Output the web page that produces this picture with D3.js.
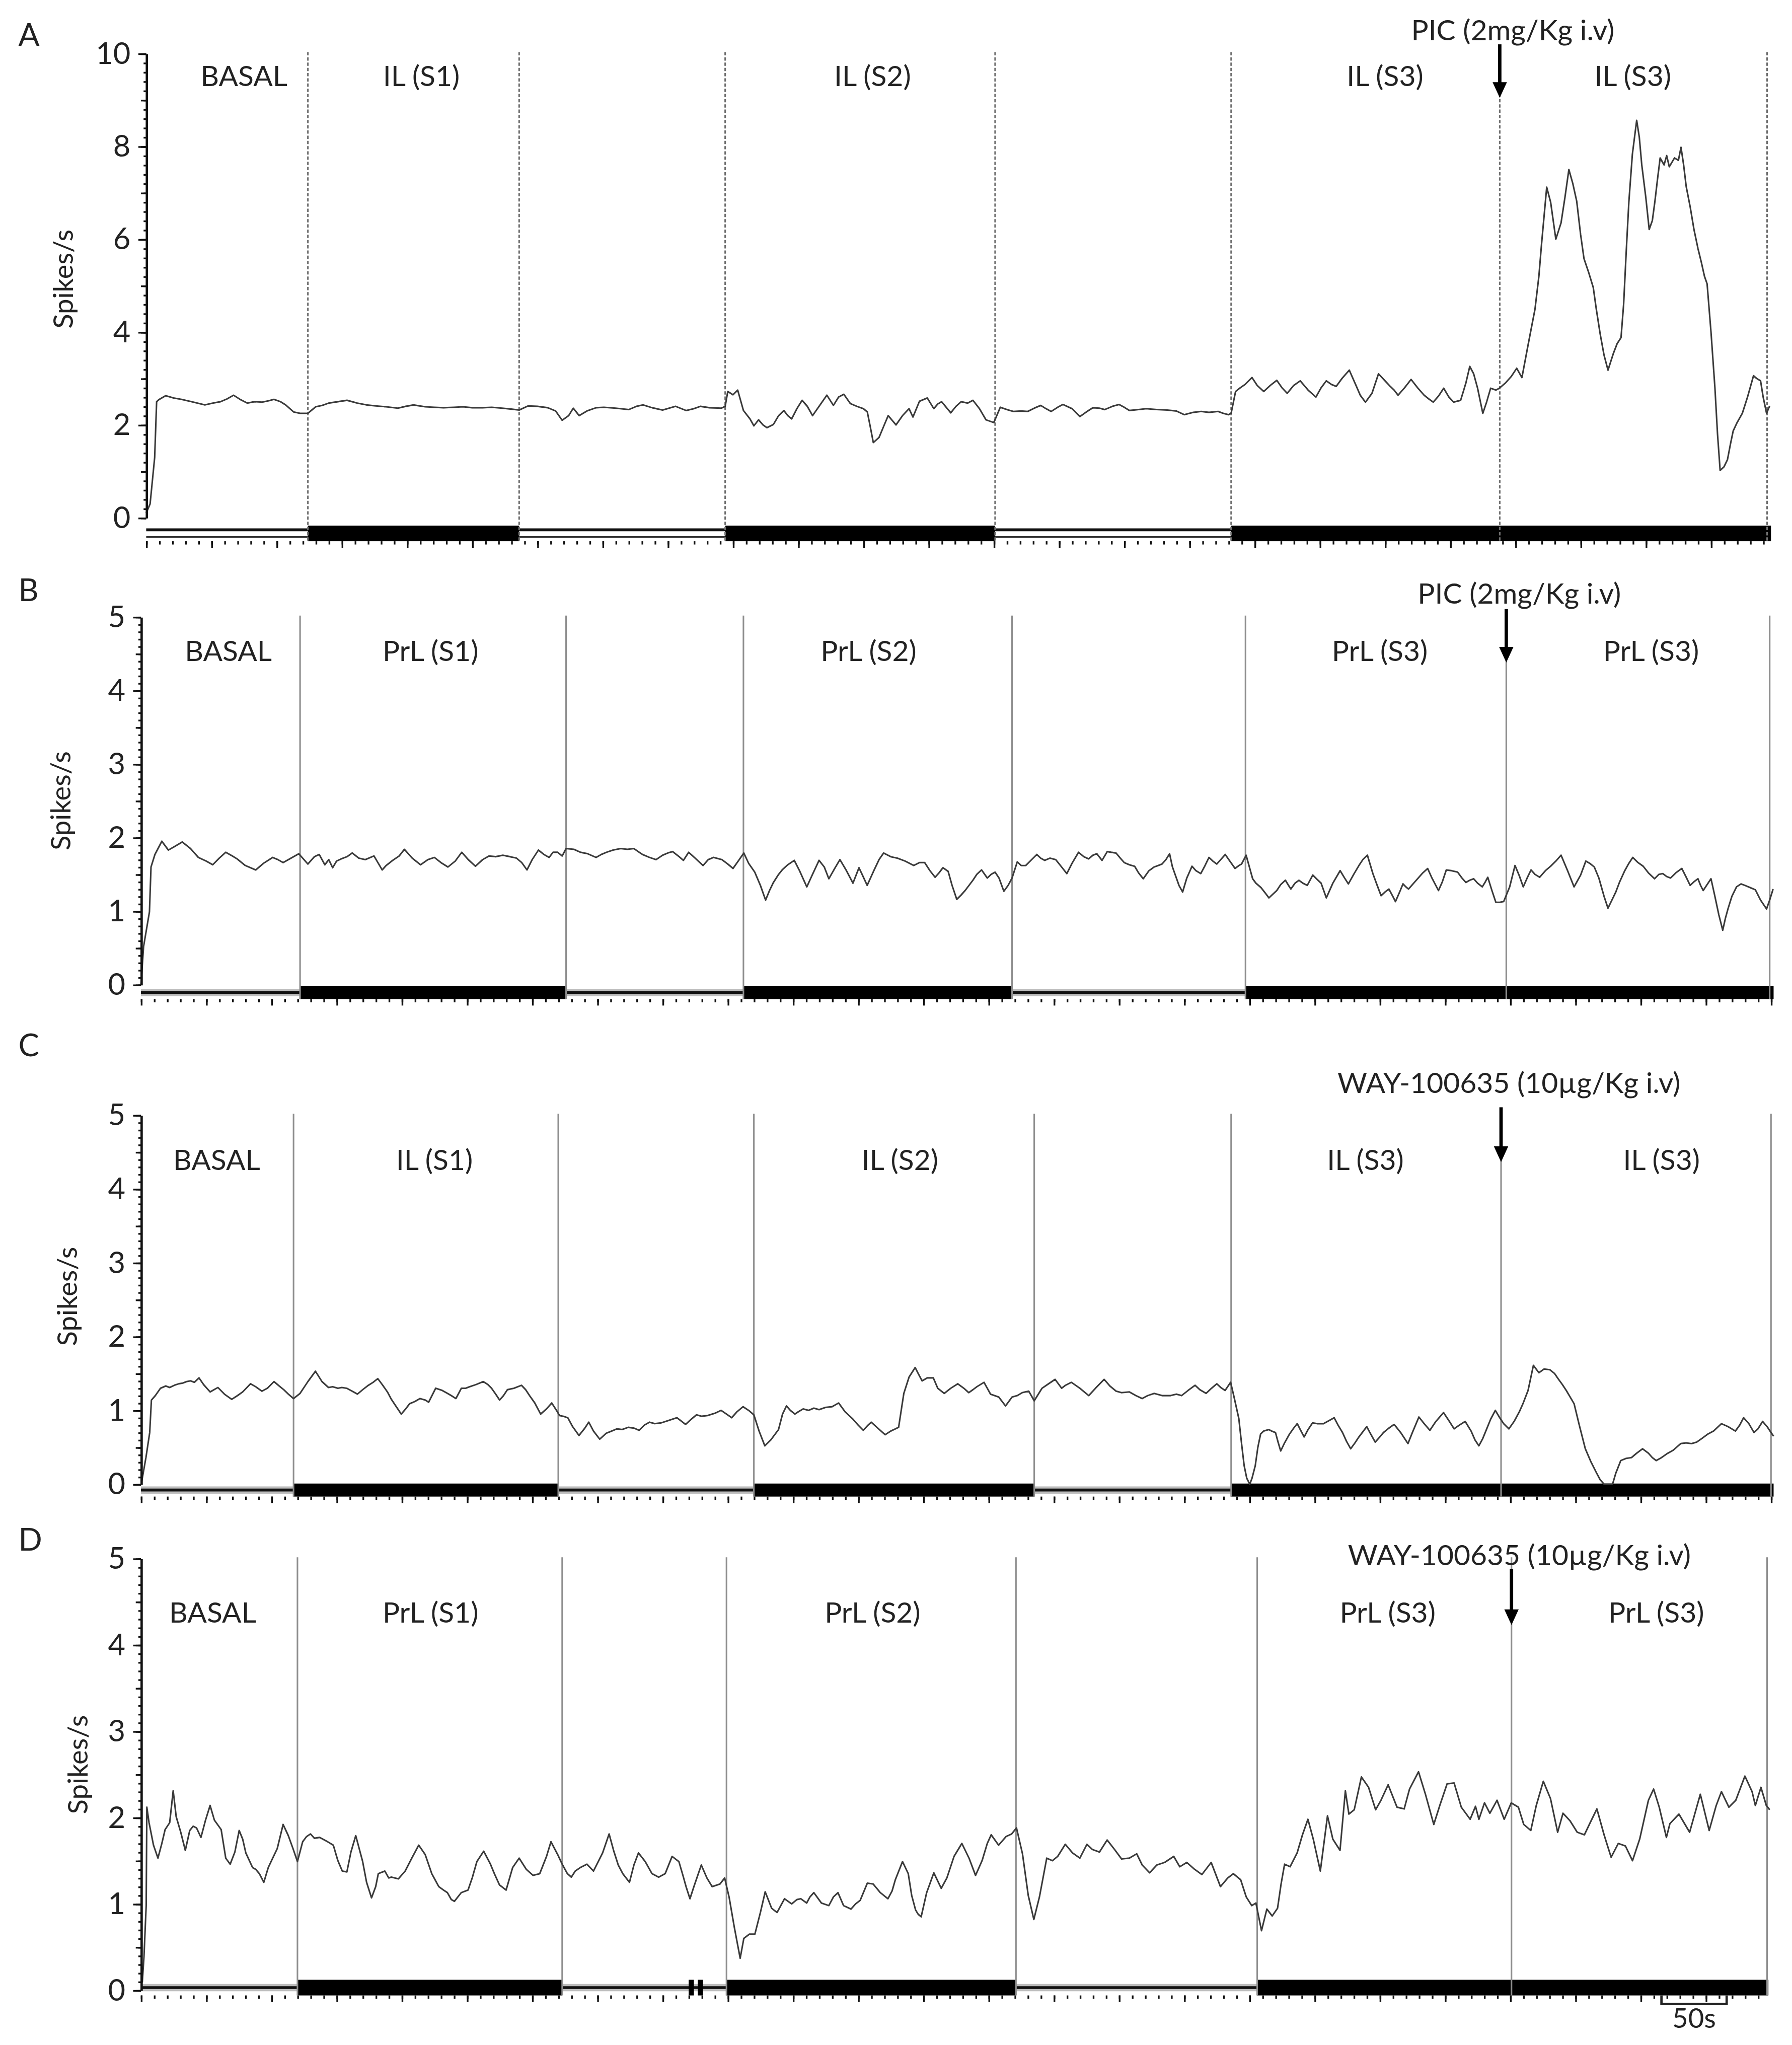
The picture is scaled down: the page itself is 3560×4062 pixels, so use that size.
<!DOCTYPE html>
<html>
<head>
<meta charset="utf-8">
<title>Spikes/s during IL / PrL stimulation</title>
<script src="https://cdn.jsdelivr.net/npm/d3@7"></script>
<style>
  body { margin: 0; background: #fff; }
  svg { display: block; }
  text { font-family: Lato, "Open Sans", sans-serif; fill: #222; }
</style>
</head>
<body>
<div id="figure"></div>
<script>
/**
 * Data: firing rate traces, [time (s), spikes/s]
 */
var traceA = [[0,0.1],[3,0.3],[6.5,1.3],[8,2.5],[10,2.55],[15,2.63],[21,2.58],[27,2.55],[35,2.5],[45,2.43],[51,2.47],[57,2.5],[62,2.56],[67,2.64],[72,2.55],[77.5,2.47],[83,2.5],[89,2.49],[94,2.52],[98,2.55],[103,2.5],[107,2.43],[113,2.28],[118,2.25],[124,2.25],
  [130,2.39],[135,2.42],[140,2.47],[147,2.5],[154,2.53],[162,2.47],[169,2.43],[176,2.41],[184,2.39],[193,2.36],[199,2.4],[205,2.43],[214,2.39],[221,2.38],[228,2.37],[236,2.38],[243,2.39],[250,2.37],[258,2.37],[265,2.38],[273,2.36],[280,2.34],[286,2.32],
  [293,2.41],[300,2.4],[308,2.37],[314,2.3],[319,2.1],[324,2.2],[327.5,2.36],[332,2.2],[338,2.3],[345,2.37],[351,2.38],[360,2.36],[370,2.33],[376,2.4],[381,2.43],[388,2.37],[396,2.32],[401,2.36],[406,2.4],[414,2.31],[420,2.35],[425,2.4],[432,2.37],[441,2.36],[444,2.4],
  [446,2.72],[450,2.65],[453.6,2.75],[458,2.31],[463,2.13],[466,1.98],[469.6,2.11],[473,2.0],[476,1.94],[481,2.01],[485,2.2],[489,2.31],[492,2.2],[495,2.13],[499,2.35],[503,2.53],[507,2.4],[511,2.2],[516,2.4],[522,2.64],[527,2.42],[531,2.6],[535,2.66],[540,2.46],[545,2.4],[550,2.35],[553,2.28],[555,2.0],[557.6,1.62],[562,1.73],[566,2.0],[569,2.2],[572,2.1],[575,2.0],[580,2.2],[585,2.35],[588,2.17],[593,2.51],[599,2.58],[604,2.35],[607,2.45],[610,2.5],[617,2.26],[621,2.4],[625,2.5],[630,2.47],[634,2.53],[639,2.35],[644,2.11],[650,2.05],
  [655,2.38],[660,2.33],[665,2.29],[671,2.3],[676,2.29],[681,2.36],[686,2.42],[690,2.35],[694,2.29],[699,2.38],[703,2.44],[710,2.35],[716,2.18],[721,2.28],[726,2.37],[731,2.36],[735,2.33],[741,2.4],[746,2.44],[750,2.38],[754,2.31],[761,2.33],[767,2.35],[775,2.33],[783,2.32],[790,2.3],[796,2.22],[803,2.27],[809,2.29],[815,2.27],[822,2.29],[826,2.25],[830,2.22],
  [832,2.25],[835.4,2.72],[839,2.8],[842.6,2.87],[848,3.02],[852,2.85],[857,2.72],[862,2.85],[867,2.96],[871,2.8],[875,2.68],[880,2.85],[885,2.95],[891,2.75],[897,2.6],[901,2.8],[905,2.95],[909,2.87],[912.6,2.83],[917,3.0],[922.6,3.18],[927,2.9],[931,2.64],[935,2.49],[940,2.68],[945,3.1],[950,2.95],[954,2.83],[957,2.75],[960,2.64],[965,2.8],[970,2.98],[975,2.8],[980,2.64],[984,2.55],[987,2.49],[991,2.62],[995,2.79],[999,2.6],[1002.6,2.49],[1008,2.53],[1012,2.9],[1015,3.26],[1018,3.1],[1021,2.79],[1025,2.25],[1028,2.5],[1031,2.79],[1035,2.75],[1037.7,2.79],
  [1042.6,2.91],[1047,3.05],[1051,3.22],[1055,3.02],[1059.7,3.72],[1065,4.49],[1068,5.2],[1070,5.88],[1074,7.12],[1077,6.8],[1081,6.0],[1085,6.35],[1088,6.9],[1091,7.5],[1094,7.2],[1097,6.82],[1100,6.1],[1102.6,5.58],[1106,5.3],[1109.7,4.96],[1112,4.5],[1115,3.96],[1118,3.5],[1121,3.18],[1125,3.53],[1128,3.75],[1131,3.88],[1133,4.6],[1135,5.74],[1137,6.8],[1139.7,7.83],[1143,8.56],[1145,8.2],[1146.9,7.6],[1150,6.9],[1152.6,6.21],[1155,6.4],[1157,6.82],[1159,7.3],[1161,7.75],[1164,7.6],[1166,7.8],[1168,7.56],[1172,7.75],[1175,7.7],[1177,7.98],[1179,7.6],[1181,7.13],[1184,6.7],[1187,6.2],[1190,5.8],[1192.6,5.5],[1195,5.2],[1197,5.04],[1200,4.0],[1203,2.8],[1205,1.8],[1207,1.02],[1210,1.1],[1212.6,1.25],[1215,1.6],[1217,1.87],[1220,2.05],[1224,2.25],[1228,2.6],[1232.6,3.06],[1235,3.0],[1238,2.95],[1240,2.6],[1242.6,2.25],[1245,2.41]];

var traceB = [[0,0.0],[2,0.52],[6.5,0.99],[7.7,1.6],[10.7,1.77],[16,1.95],[21,1.83],[25,1.87],[31.7,1.94],[38,1.85],[44,1.73],[50,1.68],[55,1.63],[60,1.72],[65,1.8],[70,1.75],[73.7,1.71],[80,1.62],[88,1.56],[94,1.65],[101,1.73],[105,1.7],[109,1.66],[115,1.72],[121,1.78],
  [128,1.64],[133,1.74],[136.7,1.77],[141,1.63],[144,1.7],[147,1.59],[150,1.68],[153.5,1.71],[158,1.74],[162,1.79],[167,1.72],[172,1.7],[178.7,1.75],[185,1.56],[188,1.62],[193,1.69],[198,1.75],[202,1.84],[208,1.72],[214.4,1.63],[220,1.7],[225,1.73],[230,1.66],[235.4,1.6],[241,1.68],[246,1.8],[251,1.7],[256.5,1.61],[262,1.7],[267,1.75],[272,1.74],[277.5,1.76],[283,1.74],[288,1.72],[292,1.66],[296,1.56],[300,1.7],[304.8,1.83],[309,1.77],[313,1.73],[316,1.8],[319.5,1.8],[323,1.75],[326,1.85],
  [332,1.84],[337,1.8],[342.6,1.78],[349,1.73],[353,1.77],[357,1.8],[362,1.83],[367.8,1.85],[373,1.84],[378,1.85],[384.6,1.77],[390,1.73],[395,1.7],[400,1.76],[404,1.79],[407.7,1.81],[412,1.75],[416,1.69],[420,1.8],[425,1.72],[431,1.62],[435,1.7],[439,1.73],[445.5,1.7],[450,1.64],[454,1.58],[458,1.68],[462.3,1.79],
  [466,1.65],[470.7,1.53],[475,1.35],[479,1.15],[482,1.28],[485,1.39],[489,1.5],[491.7,1.56],[496,1.63],[501,1.69],[505,1.55],[510.6,1.33],[515,1.5],[520,1.69],[524,1.6],[527.5,1.44],[532,1.58],[536,1.7],[541,1.55],[546,1.38],[550.6,1.59],[553,1.5],[556.9,1.35],[562,1.55],[566,1.7],[569.5,1.79],[575,1.74],[580,1.72],[586,1.68],[592.6,1.62],[597,1.66],[601,1.66],[605,1.55],[609,1.46],[612,1.52],[615,1.59],[619,1.54],[622,1.35],[625.6,1.16],[629,1.22],[632,1.28],[635,1.35],[638,1.42],[641,1.5],[644.6,1.56],[649,1.45],[652,1.5],[655,1.53],[658,1.45],[661.7,1.27],[665,1.35],[668,1.45],
  [672,1.67],[675,1.62],[678.5,1.62],[683,1.7],[687,1.77],[690,1.72],[693,1.69],[697,1.72],[701.5,1.7],[706,1.6],[710,1.51],[714,1.65],[719,1.8],[723,1.74],[726.7,1.71],[730,1.76],[733,1.78],[737,1.69],[741,1.81],[744,1.8],[747.7,1.79],[751,1.72],[754,1.66],[758,1.63],[762,1.61],[765,1.52],[768.6,1.44],[773,1.55],[777,1.6],[780,1.62],[783,1.64],[786,1.7],[788.8,1.78],[791,1.6],[793.8,1.46],[796,1.35],[798.8,1.26],[802,1.45],[806,1.61],[809,1.55],[812.7,1.51],[816,1.62],[819,1.73],[822,1.68],[825,1.64],[828,1.7],[831.5,1.77],[835,1.68],[839,1.58],[842,1.62],[844,1.64],
  [847.5,1.76],[850,1.6],[852.5,1.44],[855,1.38],[858.9,1.32],[862,1.25],[865,1.18],[868,1.23],[871,1.28],[874,1.36],[877.6,1.42],[880,1.35],[881.8,1.3],[885,1.38],[888,1.42],[891,1.38],[894.4,1.35],[898.6,1.49],[902,1.43],[905,1.38],[909,1.18],[914,1.38],[919.6,1.55],[923,1.45],[925.9,1.37],[930,1.5],[934,1.62],[937,1.7],[940.5,1.76],[944.7,1.51],[948,1.35],[951,1.21],[954,1.26],[957,1.3],[960,1.2],[962,1.13],[965,1.25],[967.8,1.37],[970,1.33],[972,1.3],[976,1.38],[980,1.46],[983,1.52],[986.7,1.58],[990,1.45],[995,1.28],[998,1.4],[1001,1.56],[1005,1.55],[1009.7,1.53],[1013,1.45],[1016,1.39],[1019,1.42],[1022,1.44],[1025,1.38],[1028.6,1.33],[1031,1.4],[1032.8,1.46],[1036,1.28],[1039,1.12],[1042,1.12],[1045,1.13],
  [1049.6,1.33],[1053.7,1.62],[1057,1.48],[1060,1.33],[1063,1.45],[1066,1.56],[1069,1.5],[1072.6,1.46],[1077,1.55],[1081,1.61],[1085,1.68],[1089,1.76],[1094,1.55],[1099,1.33],[1104,1.49],[1108,1.68],[1111,1.65],[1114.5,1.6],[1118,1.45],[1122,1.2],[1125,1.04],[1128,1.15],[1131,1.26],[1134,1.4],[1137.6,1.54],[1141,1.65],[1144,1.73],[1148,1.66],[1152,1.61],[1156,1.52],[1160.7,1.44],[1164,1.5],[1167,1.51],[1170,1.47],[1173,1.45],[1177,1.52],[1181.6,1.58],[1185,1.46],[1188,1.35],[1191,1.4],[1194,1.44],[1196,1.35],[1198,1.28],[1201,1.36],[1204,1.44],[1207,1.2],[1210,0.95],[1213,0.74],[1215,0.9],[1217,1.03],[1220,1.2],[1223.6,1.33],[1227,1.37],[1230,1.35],[1234,1.32],[1238,1.29],[1242,1.15],[1246.6,1.03],[1249,1.15],[1251.6,1.3]];

var traceC = [[0.4,0.02],[3.8,0.36],[6.7,0.7],[8,1.14],[11,1.2],[15,1.3],[19,1.33],[22,1.31],[25.6,1.34],[29,1.36],[32,1.37],[35,1.39],[38,1.4],[41,1.38],[44.5,1.44],[48,1.35],[53,1.25],[56,1.28],[59,1.31],[64,1.22],[69.6,1.15],[74,1.2],[78,1.25],[84,1.36],[88,1.32],[92.7,1.26],[97,1.3],[102,1.39],[106,1.33],[109.5,1.28],[113,1.22],[117,1.16],
  [122,1.23],[128,1.39],[133.8,1.53],[138.8,1.39],[143.8,1.31],[147,1.32],[151,1.3],[154,1.31],[157.7,1.3],[162,1.26],[166,1.22],[170,1.28],[174.4,1.34],[178,1.38],[181.6,1.43],[185,1.35],[189,1.25],[192,1.15],[195.4,1.06],[199.6,0.95],[203,1.02],[206,1.09],[210,1.12],[214,1.16],[218,1.14],[220.6,1.11],[226,1.3],[231,1.27],[235,1.23],[238,1.2],[241.5,1.16],[245.7,1.3],[249,1.3],[252,1.32],[257,1.35],[262.5,1.39],[266,1.35],[268.8,1.3],[272,1.22],[275,1.14],[278,1.2],[281,1.28],[286,1.3],[291.8,1.34],[295,1.28],[298,1.2],[302,1.1],[306.5,0.95],[311,1.02],[315,1.1],[319,0.99],
  [321,0.93],[324,0.92],[327.3,0.9],[331,0.78],[335.9,0.66],[340,0.75],[343.4,0.84],[347,0.72],[351.8,0.61],[356.8,0.69],[361,0.72],[365,0.75],[369,0.74],[373.6,0.77],[378,0.76],[382,0.73],[386,0.8],[390,0.84],[394,0.82],[398.8,0.83],[404,0.86],[411,0.9],[414,0.86],[417.6,0.81],[422,0.88],[426,0.94],[430,0.92],[434.4,0.93],[440,0.96],[444.9,1.0],[449,0.95],[453,0.9],[457,0.98],[461.7,1.05],[466,1.0],[470,0.94],
  [474,0.72],[478.4,0.52],[483,0.6],[488.9,0.74],[492,0.95],[495,1.06],[498,1.0],[501.5,0.95],[504,0.98],[507.8,1.02],[512,1.0],[516,1.03],[520,1.01],[525,1.04],[530,1.05],[535,1.1],[540,0.98],[545.5,0.89],[550,0.8],[553.9,0.73],[557,0.79],[560,0.84],[565,0.76],[570.7,0.67],[575,0.72],[581,0.77],[585,1.23],[589,1.45],[593.7,1.58],[596,1.5],[599,1.4],[603,1.44],[607.6,1.44],
  [611,1.3],[616,1.23],[621,1.3],[626.4,1.36],[631,1.3],[634.8,1.24],[638,1.28],[641,1.32],[646.5,1.38],[651.5,1.22],[657.8,1.18],[663,1.06],[668,1.18],[672,1.2],[675.8,1.24],[680.8,1.26],[685,1.13],
  [691,1.3],[696,1.36],[701,1.42],[706,1.3],[709,1.34],[713.5,1.38],[720,1.3],[726.8,1.2],[732,1.3],[738.6,1.42],[743,1.33],[747.8,1.26],[752,1.24],[758,1.25],[763,1.2],[767.8,1.16],[772,1.2],[777,1.23],[783,1.2],[789.6,1.2],[794,1.22],[798,1.2],[803,1.27],[808.4,1.34],[812,1.28],[816.8,1.23],[821,1.3],[825,1.36],[828,1.31],[831.4,1.27],[835.6,1.38],
  [838,1.2],[841.9,0.89],[844,0.55],[846,0.25],[848,0.08],[850.3,0.0],[852,0.08],[854.5,0.25],[856.5,0.5],[858.6,0.68],[861,0.72],[864.9,0.74],[867,0.72],[870,0.7],[872,0.57],[874,0.45],[877,0.56],[880.8,0.68],[884,0.76],[886.7,0.82],[889,0.74],[892,0.64],[895,0.74],[898.4,0.83],[902,0.82],[906.8,0.82],[911,0.86],[915,0.9],[918,0.8],[921.4,0.7],[924.5,0.58],[927.7,0.48],[931,0.56],[934,0.64],[937,0.71],[940,0.78],[943,0.68],[946.5,0.57],[950,0.64],[952.8,0.7],[957,0.76],[961,0.81],[966,0.7],[971.6,0.55],[975,0.7],[980,0.91],[984,0.82],[988.4,0.73],[993,0.85],[998.9,0.97],[1003,0.86],[1007,0.75],[1011,0.8],[1015.5,0.85],[1020,0.72],[1023,0.6],[1026,0.52],[1029,0.62],[1032,0.75],[1035,0.88],[1038.6,1.0],[1042,0.9],[1045,0.82],
  [1049,0.75],[1053,0.85],[1057,0.98],[1060,1.1],[1063.7,1.27],[1067.8,1.61],[1072,1.51],[1076,1.56],[1080.4,1.55],[1084,1.5],[1086.7,1.43],[1090,1.35],[1093,1.27],[1096,1.18],[1099,1.09],[1103,0.8],[1107.6,0.48],[1112,0.3],[1116,0.16],[1119,0.06],[1122,0.0],[1128.5,0.0],[1131,0.15],[1134.8,0.32],[1139,0.35],[1143,0.36],[1147,0.42],[1151.5,0.48],[1156,0.42],[1159,0.36],[1162,0.32],[1166,0.36],[1170,0.41],[1175,0.46],[1180.8,0.55],[1185,0.56],[1189,0.55],[1193,0.57],[1197,0.62],[1201.7,0.68],[1206,0.72],[1209,0.77],[1212,0.82],[1217,0.78],[1222.7,0.72],[1226,0.8],[1229,0.9],[1233,0.82],[1237,0.7],[1240,0.75],[1243.6,0.85],[1247,0.78],[1250,0.7],[1252,0.65]];

var traceD = [[1,0.09],[2.3,0.39],[4,0.98],[4.5,2.12],[6.2,1.94],[9.6,1.68],[13,1.53],[16,1.7],[18.5,1.86],[22,1.94],[24.7,2.31],[27,2.01],[30.5,1.83],[34,1.62],[37.4,1.85],[40,1.9],[42.6,1.88],[46,1.77],[49.5,1.97],[53,2.14],[56.3,1.97],[61.5,1.86],[65,1.53],[68.4,1.46],[72,1.6],[75.3,1.85],[78,1.75],[80.4,1.59],[85.6,1.42],[88,1.4],[90.8,1.35],[94.2,1.25],[97.6,1.42],[101,1.53],[104.5,1.64],[109,1.92],[113,1.79],[116.6,1.64],[120,1.49],
  [124,1.72],[127,1.78],[130,1.81],[133,1.76],[137,1.77],[142,1.73],[147.5,1.68],[151,1.5],[154.4,1.38],[157.9,1.37],[161,1.6],[164.7,1.79],[170,1.49],[173,1.25],[176.8,1.07],[180,1.2],[182,1.35],[187,1.38],[190,1.3],[192,1.31],[197.4,1.29],[202.6,1.38],[207.7,1.53],[213,1.68],[218,1.57],[223,1.35],[228.4,1.2],[232,1.16],[235,1.13],[238,1.05],[240.4,1.03],[245.6,1.13],[250.8,1.16],[254,1.3],[257.6,1.49],[262.8,1.61],[268,1.46],[271,1.35],[274.9,1.22],[280,1.16],[285,1.42],[290,1.53],[295.5,1.4],[300.7,1.33],[305.8,1.35],[311,1.55],[314.4,1.72],[319.6,1.57],[323,1.46],
  [327,1.35],[330,1.31],[333,1.38],[336.8,1.42],[342,1.46],[347,1.38],[351,1.5],[354,1.59],[359,1.81],[362.6,1.61],[366,1.45],[369.5,1.35],[374.6,1.25],[378,1.45],[381.5,1.59],[386.7,1.49],[391.9,1.35],[397,1.31],[402,1.35],[407.3,1.55],[412.5,1.49],[415.6,1.33],[418,1.2],[421,1.06],[424,1.2],[429.7,1.45],[434,1.3],[438,1.2],[444,1.23],[447.6,1.3],
  [451,1.08],[455,0.73],[459.5,0.37],[462.3,0.6],[466.6,0.65],[470.8,0.65],[475,0.9],[478.7,1.14],[483.6,0.95],[487.8,0.9],[493.5,1.06],[499,1.0],[503,1.05],[506,1.06],[510.5,1.01],[513,1.08],[516,1.13],[521.8,1.01],[527.5,0.98],[531,1.08],[534.5,1.13],[538.8,0.98],[544.5,0.94],[548,1.0],[551.5,1.04],[557,1.24],[561.5,1.23],[567,1.13],[572.8,1.06],[576,1.15],[578.5,1.28],[584,1.49],[588.4,1.35],[591,1.1],[594,0.93],[596,0.88],[598.3,0.85],[602.5,1.13],[608,1.36],[613.7,1.18],[618,1.3],[623.5,1.55],[629.5,1.7],[635,1.53],[640,1.33],[645,1.5],[649,1.7],[652,1.8],[657.7,1.68],[663.4,1.78],[667.7,1.81],[671.4,1.88],
  [676,1.58],[680.4,1.1],[684.7,0.82],[689,1.08],[694.6,1.53],[698.9,1.5],[703,1.55],[708.8,1.69],[714.4,1.59],[720,1.53],[725.4,1.69],[729.6,1.63],[735,1.6],[740.9,1.74],[746.6,1.63],[752,1.52],[757.9,1.53],[763.6,1.58],[767.8,1.45],[773.5,1.36],[779,1.45],[785,1.48],[792,1.55],[796.6,1.43],[802,1.48],[808,1.4],[813.6,1.34],[820.7,1.48],[827.8,1.2],[833.4,1.3],[837.7,1.35],[843.3,1.28],[847.6,1.08],[851.8,0.98],
  [855,1.01],[859.3,0.69],[863.4,0.94],[867.5,0.86],[871.6,0.95],[874.3,1.23],[877,1.46],[881.2,1.43],[886.6,1.59],[890.7,1.8],[894.9,1.98],[899,1.75],[904.4,1.38],[909.9,2.02],[914,1.75],[919.5,1.62],[923.6,2.31],[926.3,2.04],[930.4,2.09],[935.9,2.47],[941.4,2.35],[946.8,2.09],[950.9,2.2],[956.4,2.38],[963.2,2.12],[968.7,2.1],[972.8,2.33],[979.7,2.53],[985,2.27],[991.4,1.92],[996,2.14],[1001.6,2.39],[1007,2.4],[1012.5,2.12],[1019.3,1.98],[1023.4,2.13],[1026,1.98],[1030.3,2.17],[1034.4,2.05],[1039.9,2.2],[1045.4,1.98],[1050.8,2.17],
  [1056.3,2.12],[1060.4,1.92],[1065.8,1.85],[1070,2.14],[1075.4,2.42],[1080.9,2.22],[1086.4,1.83],[1090.5,2.05],[1096,1.96],[1101.4,1.83],[1106.9,1.8],[1111,1.93],[1116.5,2.1],[1122,1.8],[1127.4,1.54],[1132.9,1.7],[1138.4,1.67],[1143.8,1.5],[1149.3,1.75],[1156,2.2],[1160,2.33],[1164.3,2.12],[1169.8,1.77],[1172.5,1.93],[1179.4,2.04],[1187.6,1.83],[1195.8,2.27],[1202.6,1.85],[1208,2.14],[1212,2.3],[1217.7,2.12],[1223,2.2],[1230,2.48],[1235.5,2.3],[1238,2.14],[1242.3,2.35],[1246.4,2.14],[1249,2.09]];

// recording length (s)
var durations = [1246, 1252, 1252, 1248];

// period boundaries (s); index 5 = drug injection
var eventsA = [124, 286, 444, 651, 832, 1038, 1243];
var eventsB = [122, 326, 462, 668, 847, 1047, 1249];
var eventsC = [117, 320, 470, 685, 836, 1043, 1250];
var eventsD = [120, 323, 449, 671, 856, 1051, 1247];

// stimulation on (filled bar), [start, end] s
var stimA = [[124, 286], [444, 651], [832, 1246]];
var stimB = [[122, 326], [462, 668], [847, 1252]];
var stimC = [[117, 320], [470, 685], [836, 1252]];
var stimD = [[120, 323], [449, 671], [856, 1248], [420, 424], [427, 431]];

// period labels and where they sit (s)
var labelsIL = ["BASAL", "IL (S1)", "IL (S2)", "IL (S3)", "IL (S3)"];
var labelsPrL = ["BASAL", "PrL (S1)", "PrL (S2)", "PrL (S3)", "PrL (S3)"];
var labelAtA = [75, 211, 557, 950, 1140];
var labelAtB = [67, 222, 558, 950, 1158];
var labelAtC = [58, 225, 582, 939, 1166];
var labelAtD = [55, 222, 561, 956, 1162];

var drugs = ["PIC (2mg/Kg i.v)", "PIC (2mg/Kg i.v)", "WAY-100635 (10\u00b5g/Kg i.v)", "WAY-100635 (10\u00b5g/Kg i.v)"];
var drugTextAt = [1048, 1057, 1049, 1057];

var yTicksA = [0, 2, 4, 6, 8, 10];
var yTicks5 = [0, 1, 2, 3, 4, 5];
var scaleBarSeconds = 50;

/**
 * Layout (figure units, 1374 x 1568)
 */
var panels = [
  {id: 'A', trace: traceA, T: durations[0], events: eventsA, stim: stimA, labels: labelsIL, labelAt: labelAtA,
    yTicks: yTicksA, yMax: 10, minorStep: 0.2, midStep: 1,
    x0: 112, yZero: 397, yTop: 41, barTop: 403, barBot: 415, openStyle: 'double',
    letterY: 35, labelY: 66, drugY: 31, arrow: [34, 75], spikesX: 56, spikesY: 214, dashed: true},
  {id: 'B', trace: traceB, T: durations[1], events: eventsB, stim: stimB, labels: labelsPrL, labelAt: labelAtB,
    yTicks: yTicks5, yMax: 5, minorStep: 0.1, midStep: 0.5,
    x0: 108, yZero: 755, yTop: 473, barTop: 756, barBot: 766, openStyle: 'single',
    letterY: 461, labelY: 507, drugY: 463, arrow: [467, 508], spikesX: 54, spikesY: 614},
  {id: 'C', trace: traceC, T: durations[2], events: eventsC, stim: stimC, labels: labelsIL, labelAt: labelAtC,
    yTicks: yTicks5, yMax: 5, minorStep: 0.1, midStep: 0.5,
    x0: 108, yZero: 1138, yTop: 855, barTop: 1137.5, barBot: 1147.5, openStyle: 'single',
    letterY: 810, labelY: 897, drugY: 838, arrow: [849, 891], spikesX: 59, spikesY: 994},
  {id: 'D', trace: traceD, T: durations[3], events: eventsD, stim: stimD, labels: labelsPrL, labelAt: labelAtD,
    yTicks: yTicks5, yMax: 5, minorStep: 0.1, midStep: 0.5,
    x0: 108, yZero: 1526, yTop: 1195, barTop: 1518, barBot: 1530, openStyle: 'single',
    letterY: 1189, labelY: 1244, drugY: 1200, arrow: [1203, 1246], spikesX: 67, spikesY: 1353, scaleBar: true}
];
panels.forEach(function (p, i) {
  p.drug = drugs[i];
  p.drugAt = drugTextAt[i];
});

var svg = d3.select('#figure').append('svg')
  .attr('width', 3560)
  .attr('height', 4062)
  .attr('viewBox', '0 0 1374 1568');

svg.append('rect').attr('width', 1374).attr('height', 1568).attr('fill', '#fff');

panels.forEach(drawPanel);

function drawPanel(p) {
  var x = d3.scaleLinear().domain([0, p.T]).range([p.x0, p.x0 + p.T]);
  var y = d3.scaleLinear().domain([0, p.yMax]).range([p.yZero, p.yTop]);
  var g = svg.append('g').attr('class', 'panel panel-' + p.id);

  // Open (no stimulation) parts of the bar
  var main = p.stim.slice(0, 3);
  var open = [];
  var last = 0;
  main.forEach(function (s) {
    if (s[0] > last) { open.push([last, s[0]]); }
    last = s[1];
  });
  if (last < p.T) { open.push([last, p.T]); }

  var mid = (p.barTop + p.barBot) / 2;
  if (p.openStyle === 'double') {
    g.selectAll('.open1').data(open).enter().append('line')
      .attr('x1', function (d) { return x(d[0]); })
      .attr('x2', function (d) { return x(d[1]); })
      .attr('y1', mid - 2.8).attr('y2', mid - 2.8)
      .attr('stroke', '#111').attr('stroke-width', 2.2);
    g.selectAll('.open2').data(open).enter().append('line')
      .attr('x1', function (d) { return x(d[0]); })
      .attr('x2', function (d) { return x(d[1]); })
      .attr('y1', mid + 2.8).attr('y2', mid + 2.8)
      .attr('stroke', '#333').attr('stroke-width', 1.4);
  } else {
    g.selectAll('.openHalo').data(open).enter().append('rect')
      .attr('x', function (d) { return x(d[0]); })
      .attr('width', function (d) { return x(d[1]) - x(d[0]); })
      .attr('y', mid - 2.8).attr('height', 5.6)
      .attr('fill', '#bdbdbd');
    g.selectAll('.openLine').data(open).enter().append('line')
      .attr('x1', function (d) { return x(d[0]); })
      .attr('x2', function (d) { return x(d[1]); })
      .attr('y1', mid).attr('y2', mid)
      .attr('stroke', '#111').attr('stroke-width', 2.2);
  }

  // Stimulation bars
  g.selectAll('.stim').data(p.stim).enter().append('rect')
    .attr('x', function (d) { return x(d[0]); })
    .attr('width', function (d) { return x(d[1]) - x(d[0]); })
    .attr('y', p.barTop)
    .attr('height', p.barBot - p.barTop)
    .attr('fill', '#000');

  // Bottom time ticks
  var minorAxis = d3.axisBottom(x)
    .tickValues(d3.range(0, p.T + 1, 10))
    .tickSize(2.5).tickSizeOuter(0).tickFormat('');
  var majorAxis = d3.axisBottom(x)
    .tickValues(d3.range(0, p.T + 1, 50))
    .tickSize(5).tickSizeOuter(0).tickFormat('');
  [minorAxis, majorAxis].forEach(function (ax, k) {
    var a = g.append('g').attr('transform', 'translate(0,' + p.barBot + ')').call(ax);
    a.select('.domain').remove();
    a.selectAll('line').attr('stroke', '#222').attr('stroke-width', k ? 1.6 : 0.9);
  });

  // Period boundaries
  g.selectAll('.event').data(p.events).enter().append('line')
    .attr('x1', function (d) { return x(d); })
    .attr('x2', function (d) { return x(d); })
    .attr('y1', p.yTop - 1)
    .attr('y2', p.barBot)
    .attr('stroke', p.dashed ? '#6f6f6f' : '#8e8e8e')
    .attr('stroke-width', 1.2)
    .attr('stroke-dasharray', p.dashed ? '2.5,1.5' : null);

  // Firing rate trace
  var line = d3.line()
    .x(function (d) { return x(d[0]); })
    .y(function (d) { return y(d[1]); });
  g.append('path')
    .datum(p.trace)
    .attr('d', line)
    .attr('fill', 'none')
    .attr('stroke', '#3a3a3a')
    .attr('stroke-width', 1.2)
    .attr('stroke-linejoin', 'round');

  // Y axis: minor, mid and labelled ticks
  var minor = d3.range(0, p.yMax + 1e-6, p.minorStep);
  var mids = d3.range(0, p.yMax + 1e-6, p.midStep);
  var yMinor = g.append('g').attr('transform', 'translate(' + p.x0 + ',0)')
    .call(d3.axisLeft(y).tickValues(minor).tickSize(2).tickSizeOuter(0).tickFormat(''));
  yMinor.select('.domain').remove();
  var yMid = g.append('g').attr('transform', 'translate(' + p.x0 + ',0)')
    .call(d3.axisLeft(y).tickValues(mids).tickSize(4).tickSizeOuter(0).tickFormat(''));
  yMid.select('.domain').remove();
  var yAxis = g.append('g').attr('transform', 'translate(' + p.x0 + ',0)')
    .call(d3.axisLeft(y).tickValues(p.yTicks).tickSize(6).tickSizeOuter(0).tickPadding(6).tickFormat(d3.format('d')));
  g.selectAll('.tick line').attr('stroke', '#111').attr('stroke-width', 1.3);
  yAxis.select('.domain').attr('stroke', '#111').attr('stroke-width', 1.8);
  yAxis.selectAll('text')
    .attr('font-family', 'Lato, "Open Sans", sans-serif')
    .attr('font-size', 23)
    .attr('fill', '#222');

  g.append('text')
    .attr('transform', 'translate(' + p.spikesX + ',' + p.spikesY + ') rotate(-90)')
    .attr('text-anchor', 'middle')
    .attr('font-size', 21)
    .text('Spikes/s');

  // Panel letter
  g.append('text')
    .attr('x', 14)
    .attr('y', p.letterY)
    .attr('font-size', 24)
    .text(p.id);

  // Period labels
  g.selectAll('.period').data(p.labels).enter().append('text')
    .attr('x', function (d, i) { return x(p.labelAt[i]); })
    .attr('y', p.labelY)
    .attr('text-anchor', 'middle')
    .attr('font-size', 22)
    .text(function (d) { return d; });

  // Drug injection text and arrow
  var ax = x(p.events[5]);
  g.append('text')
    .attr('x', x(p.drugAt))
    .attr('y', p.drugY)
    .attr('text-anchor', 'middle')
    .attr('font-size', 22)
    .text(p.drug);
  g.append('line')
    .attr('x1', ax).attr('x2', ax)
    .attr('y1', p.arrow[0]).attr('y2', p.arrow[1] - 10)
    .attr('stroke', '#000').attr('stroke-width', 2.6);
  g.append('path')
    .attr('d', 'M' + (ax - 5.5) + ',' + (p.arrow[1] - 12) + 'L' + (ax + 5.5) + ',' + (p.arrow[1] - 12) + 'L' + ax + ',' + p.arrow[1] + 'Z')
    .attr('fill', '#000');

  // 50 s scale bar
  if (p.scaleBar) {
    var s0 = 1166, s1 = s0 + scaleBarSeconds;
    g.append('path')
      .attr('d', 'M' + x(s0) + ',' + p.barBot + 'V' + (p.barBot + 6.5) + 'H' + x(s1) + 'V' + p.barBot)
      .attr('fill', 'none').attr('stroke', '#222').attr('stroke-width', 1.8);
    g.append('text')
      .attr('x', x((s0 + s1) / 2))
      .attr('y', p.barBot + 25)
      .attr('text-anchor', 'middle')
      .attr('font-size', 21)
      .text(scaleBarSeconds + 's');
  }
}
</script>
</body>
</html>
